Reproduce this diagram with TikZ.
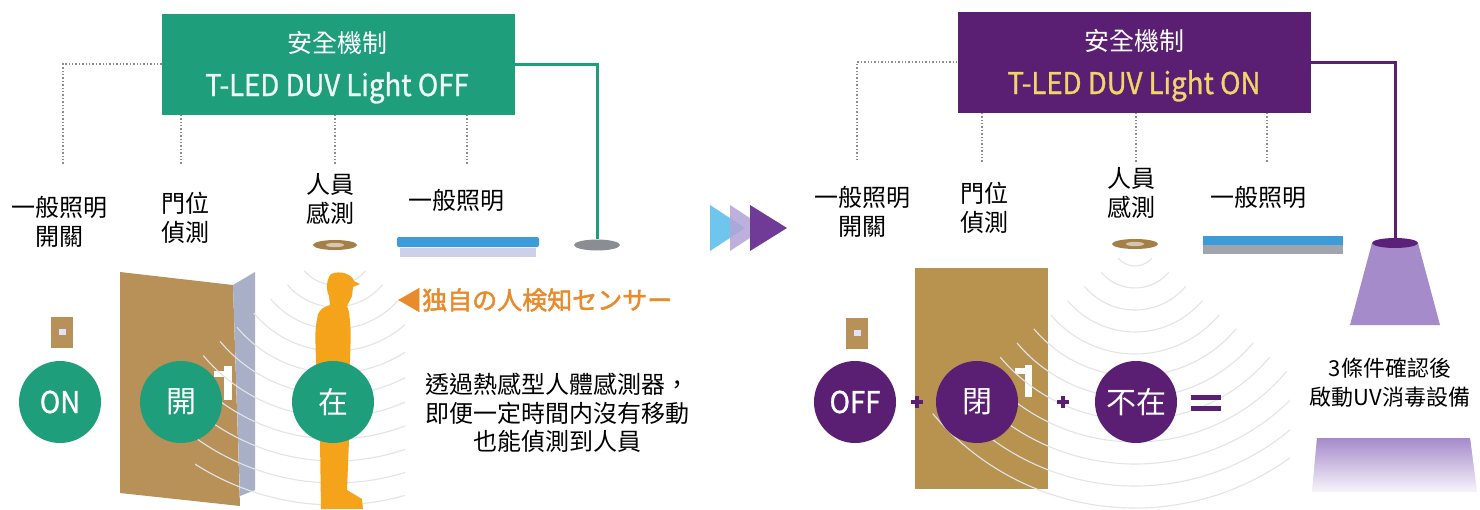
\documentclass[tikz,border=0pt]{standalone}
\usepackage{fontspec}
\setmainfont{Noto Sans CJK TC}
\newfontfamily\jpfont[FakeBold=2]{Noto Sans CJK JP}
\newfontfamily\condfont[FakeStretch=0.92,FakeBold=1]{Noto Sans CJK TC}
\usetikzlibrary{shapes.geometric}

\definecolor{safegreen}{HTML}{1F9E7B}
\definecolor{uvpurple}{HTML}{5A1F72}
\definecolor{doorbrown}{HTML}{B89159}
\definecolor{doorbrownB}{HTML}{B8924F}
\definecolor{doorside}{HTML}{A8AFC6}
\definecolor{personorange}{HTML}{F5A31A}
\definecolor{sensororange}{HTML}{E98A2B}
\definecolor{lampblue}{HTML}{3B9CD9}
\definecolor{lamplilac}{HTML}{CDD0E8}
\definecolor{lampgrey}{HTML}{A1A4AC}
\definecolor{offgrey}{HTML}{8B8D95}
\definecolor{lampbronze}{HTML}{A38048}
\definecolor{uvlilac}{HTML}{A68BCB}
\definecolor{uvdark}{HTML}{5B2077}
\definecolor{lighton}{HTML}{F1D56B}
\definecolor{wavegrey}{HTML}{E2E4E7}
\definecolor{arrowblue}{HTML}{6EC6EE}
\definecolor{arrowlilac}{HTML}{B3A3D6}
\definecolor{arrowpurple}{HTML}{6F3B96}

\begin{document}
\begin{tikzpicture}[x=1pt,y=-1pt,
  wire/.style={draw=black!45, dotted, line width=1.4pt},
  feedA/.style={draw=safegreen, line width=3pt},
  feedB/.style={draw=uvpurple, line width=3pt},
  panel/.style={minimum width=353pt, minimum height=101pt, inner sep=0pt},
  headtext/.style={text=white, font=\fontsize{25}{25}\selectfont, inner sep=0pt},
  modetext/.style={font=\condfont\fontsize{30}{30}\selectfont, inner sep=0pt, anchor=base},
  labeltext/.style={font=\fontsize{24}{29}\selectfont, align=center, inner sep=0pt},
  notetext/.style={font=\fontsize{24}{28.5}\selectfont, align=center, inner sep=0pt},
  statedisc/.style={circle, minimum size=82pt, inner sep=0pt, text=white, font=\fontsize{30}{30}\selectfont},
  lampdisc/.style={ellipse, minimum width=44pt, minimum height=10pt, inner sep=0pt},
  bar/.style={minimum width=140pt, minimum height=9pt, inner sep=0pt},
  switchbox/.style={fill=doorbrown, minimum width=22pt, minimum height=31pt, inner sep=0pt},
  wave/.style={draw=wavegrey, line width=1.1pt},
  opsign/.style={draw=uvpurple, line width=3.5pt},
  ]
\useasboundingbox (0,0) rectangle (1480,509);
\fill[white] (0,0) rectangle (1480,509);

% ---------- left half: disinfection light off ----------
\node[panel, fill=safegreen] (ctrlA) at (338.5,64) {};
\node[headtext] (headA) at (337,43) {安全機制};
\node[modetext, text=white!92!safegreen] (modeA) at (337,96) {T-LED DUV Light OFF};

\coordinate (wA1) at (63,165);
\coordinate (wA2) at (181,165);
\coordinate (wA3) at (335,165);
\coordinate (wA4) at (467,165);
\draw[wire] (ctrlA.west) -| (wA1);
\draw[wire] (ctrlA.south -| wA2) -- (wA2);
\draw[wire] (ctrlA.south -| wA3) -- (wA3);
\draw[wire] (ctrlA.south -| wA4) -- (wA4);

\node[labeltext] (lblA1) at (60,222) {一般照明\\開關};
\node[labeltext] (lblA2) at (185,218) {門位\\偵測};
\node[labeltext] (lblA3) at (330,199) {人員\\感測};
\node[labeltext] (lblA4) at (456,200) {一般照明};

% ceiling fittings
\node[lampdisc, fill=lampbronze] (sensA) at (335,245) {};
\fill[lampbronze!45!white] (sensA.center) ellipse[x radius=9, y radius=2.2];
\node[bar, fill=lamplilac, minimum width=136pt] (tubeAlow) at (468,252) {};
\node[bar, fill=lampblue, minimum width=142pt, minimum height=10pt, rounded corners=2pt] (tubeA) at (468,242) {};
\node[lampdisc, fill=offgrey, minimum width=46pt, minimum height=11pt] (uvA) at (597,245) {};
\draw[feedA] (ctrlA.east) -| (uvA.north);

% wall switch and open door
\node[switchbox] (swA) at (62,332) {};
\node[fill=white!88!blue, minimum width=7pt, minimum height=6pt, inner sep=0pt] (swAkey) at (swA.center) {};
\fill[doorbrown] (120,272) -- (233,285) -- (240,506) -- (120,493) -- cycle;
\fill[doorside] (233,285) -- (255,272) -- (255,490) -- (240,496) -- cycle;
\fill[white] (224,366) rectangle (232,400);
\fill[white] (214,371) rectangle (226,377);

% sensing field around the person
\begin{scope}
  \clip (195,262) rectangle (405,509);
  \foreach \r in {40,62,...,260}
    \draw[wave] (sensA.center) ++(40:\r) arc[start angle=40, end angle=140, radius=\r];
\end{scope}

% person
\fill[personorange] (331,274) .. controls (340,270) and (352,274) .. (354,281)
  -- (360,284) -- (353,287) -- (352,296) -- (349,302) -- (347,306)
  -- (349,312) .. controls (351,330) .. (350,360) -- (349,440) -- (347,490)
  -- (362,499) -- (363,509) -- (321,509) -- (320,440) -- (316,360)
  .. controls (315,330) .. (318,314) .. controls (322,308) .. (330,305)
  -- (329,296) .. controls (326,290) and (326,280) .. (331,274) -- cycle;

\node[statedisc, fill=safegreen, font=\condfont\fontsize{30}{30}\selectfont] (onA) at (60,402) {ON};
\node[statedisc, fill=safegreen] (openA) at (181,402) {開};
\node[statedisc, fill=safegreen] (inA) at (333,402) {在};

\node[font=\jpfont\fontsize{25}{25}\selectfont, text=sensororange, anchor=west, inner sep=0pt] (sensorTag) at (397,300) {◀独自の人検知センサー};
\node[notetext] (noteA) at (557,413) {透過熱感型人體感測器，\\即便一定時間内沒有移動\\也能偵測到人員};

% ---------- transition arrows ----------
\fill[arrowblue] (710,205) -- (745,228) -- (710,251) -- cycle;
\fill[arrowlilac, opacity=.85] (730,205) -- (765,228) -- (730,251) -- cycle;
\fill[arrowpurple] (750,205) -- (787,228) -- (750,251) -- cycle;

% ---------- right half: disinfection light on ----------
\node[panel, fill=uvpurple] (ctrlB) at (1134,62) {};
\node[headtext] (headB) at (1134,41) {安全機制};
\node[modetext, text=lighton] (modeB) at (1134,94) {T-LED DUV Light ON};

\coordinate (wB1) at (857,162);
\coordinate (wB2) at (982,162);
\coordinate (wB3) at (1136,162);
\coordinate (wB4) at (1267,162);
\draw[wire] (ctrlB.west) -| (wB1);
\draw[wire] (ctrlB.south -| wB2) -- (wB2);
\draw[wire] (ctrlB.south -| wB3) -- (wB3);
\draw[wire] (ctrlB.south -| wB4) -- (wB4);

\node[labeltext] (lblB1) at (862,212) {一般照明\\開關};
\node[labeltext] (lblB2) at (984,208) {門位\\偵測};
\node[labeltext] (lblB3) at (1131,193) {人員\\感測};
\node[labeltext] (lblB4) at (1258,197) {一般照明};

\node[lampdisc, fill=lampbronze, minimum width=46pt] (sensB) at (1135,244) {};
\fill[lampbronze!45!white] (sensB.center) ellipse[x radius=9, y radius=2.2];
\node[bar, fill=lampgrey] (tubeBlow) at (1273,249) {};
\node[bar, fill=lampblue] (tubeB) at (1273,240) {};

% UV fitting with its beam
\fill[uvlilac] (1372,243) -- (1418,243) -- (1440,325) -- (1350,325) -- cycle;
\begin{scope}
  \clip (1317,438) -- (1470,438) -- (1477,492) -- (1312,492) -- cycle;
  % beam fades out towards the floor
  \foreach \i in {0,...,26} {
    \pgfmathsetmacro{\pct}{100-3.4*\i}
    \fill[uvlilac!\pct!white] (1300,438+2*\i) rectangle (1490,440.6+2*\i);
  }
\end{scope}
\node[lampdisc, fill=uvdark, minimum width=46pt] (uvB) at (1395,243) {};
\draw[feedB] (ctrlB.east) -| (uvB.north);

\node[switchbox] (swB) at (857,333) {};
\node[fill=white!88!blue, minimum width=7pt, minimum height=6pt, inner sep=0pt] (swBkey) at (swB.center) {};
\fill[doorbrownB] (915,268) rectangle (1048,489);
\fill[white] (1025,365) rectangle (1032,397);
\fill[white] (1015,368) rectangle (1027,374);

\begin{scope}
  \clip (880,250) rectangle (1290,509);
  \foreach \r in {22,44,...,264}
    \draw[wave] (sensB.center) ++(40:\r) arc[start angle=40, end angle=140, radius=\r];
\end{scope}

\node[statedisc, fill=uvpurple, font=\condfont\fontsize{30}{30}\selectfont] (offB) at (855,402) {OFF};
\node[statedisc, fill=uvpurple] (shutB) at (977,402) {閉};
\node[statedisc, fill=uvpurple] (awayB) at (1136,402) {不在};

\draw[opsign] (offB.east) ++(21,0) coordinate (p1c) ++(-6,0) -- ++(12,0);
\draw[opsign] (p1c) ++(0,-6) -- ++(0,12);
\draw[opsign] (shutB.east) ++(45,0) coordinate (p2c) ++(-6,0) -- ++(12,0);
\draw[opsign] (p2c) ++(0,-6) -- ++(0,12);
\draw[opsign, line width=5pt] (awayB.east) ++(14,-5) -- ++(30,0);
\draw[opsign, line width=5pt] (awayB.east) ++(14,6) -- ++(30,0);

\node[labeltext, font=\fontsize{22}{29}\selectfont] (noteB) at (1390,383) {3條件確認後\\啟動UV消毒設備};
\end{tikzpicture}
\end{document}
